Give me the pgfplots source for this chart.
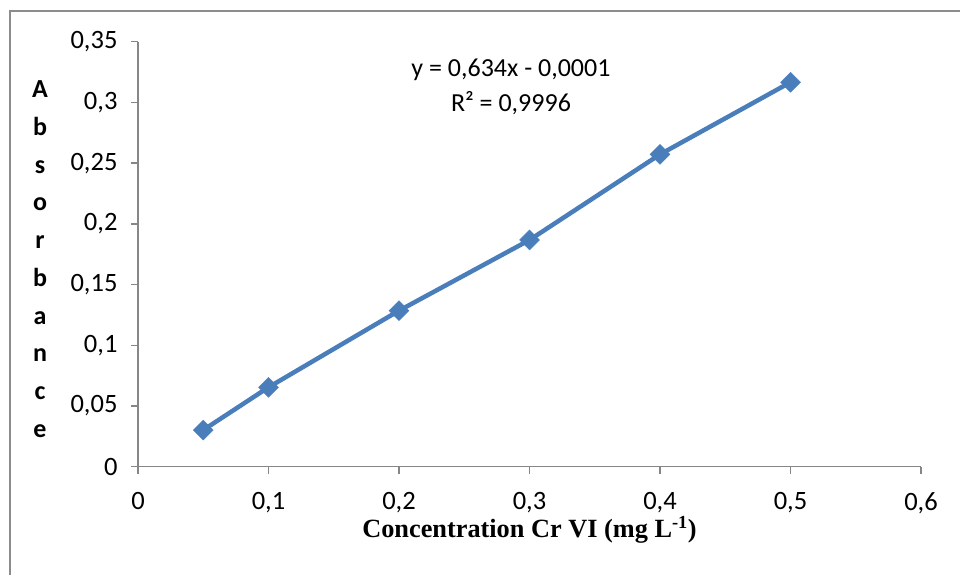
\documentclass[border=0pt]{standalone}
\usepackage{fontspec}
\setmainfont{Carlito}
\newfontfamily\timesfont{Liberation Serif}
\usepackage{pgfplots}
\pgfplotsset{compat=1.18}
\definecolor{serie}{HTML}{4A7EBB}
\definecolor{axgray}{HTML}{868686}
\definecolor{framegray}{HTML}{8C8C8C}
\begin{document}
\begin{tikzpicture}[x=1pt,y=1pt]
\path[use as bounding box] (0,0) rectangle (960,574);
\draw[color=framegray, line width=2pt] (9.5,-5) -- (9.5,563.3) -- (965,563.3);
\begin{axis}[
  at={(138pt,107.3pt)}, anchor=south west,
  scale only axis, width=783pt, height=425pt,
  xmin=0, xmax=0.6, ymin=0, ymax=0.35,
  axis x line=bottom, axis y line=left,
  axis line style={-, draw=axgray, line width=1.5pt},
  xtick={0,0.1,0.2,0.3,0.4,0.5,0.6},
  ytick={0,0.05,0.1,0.15,0.2,0.25,0.3,0.35},
  tick align=outside, major tick length=7pt,
  tick style={draw=axgray, line width=1.5pt},
  tick label style={font=\fontsize{26.5}{30}\selectfont, text=black},
  yticklabel style={xshift=-10pt},
  xticklabel style={yshift=-15pt},
  /pgf/number format/use comma,
  /pgf/number format/fixed,
  /pgf/number format/precision=2,
  /pgf/number format/assume math mode=true,
  xlabel={\timesfont\bfseries Concentration Cr VI (mg L\textsuperscript{-1})},
  xlabel style={font=\fontsize{26.3}{30}\selectfont, at={(axis description cs:0.5,0)}, anchor=base, yshift=-71.2pt},
  ylabel={A\\b\\s\\o\\r\\b\\a\\n\\c\\e},
  ylabel style={rotate=-90, at={(axis description cs:0,0.5)}, anchor=center, align=center,
    font=\bfseries\fontsize{26}{37.7}\selectfont, xshift=-98pt, yshift=-5pt},
]
\addplot[serie, line width=4.5pt, mark=square*, mark size=7pt,
  mark options={rotate=45, solid, line width=0.5pt, fill=serie}]
  coordinates {(0.05,0.0302) (0.1,0.0654) (0.2,0.1285) (0.3,0.1867) (0.4,0.2572) (0.5,0.3166)};
\node[anchor=base, font=\fontsize{26}{30}\selectfont] at (axis cs:0.2858,0.3212) {y = 0,634x - 0,0001};
\node[anchor=base, font=\fontsize{26}{30}\selectfont] at (axis cs:0.2858,0.2923) {R² = 0,9996};
\end{axis}
\end{tikzpicture}
\end{document}
